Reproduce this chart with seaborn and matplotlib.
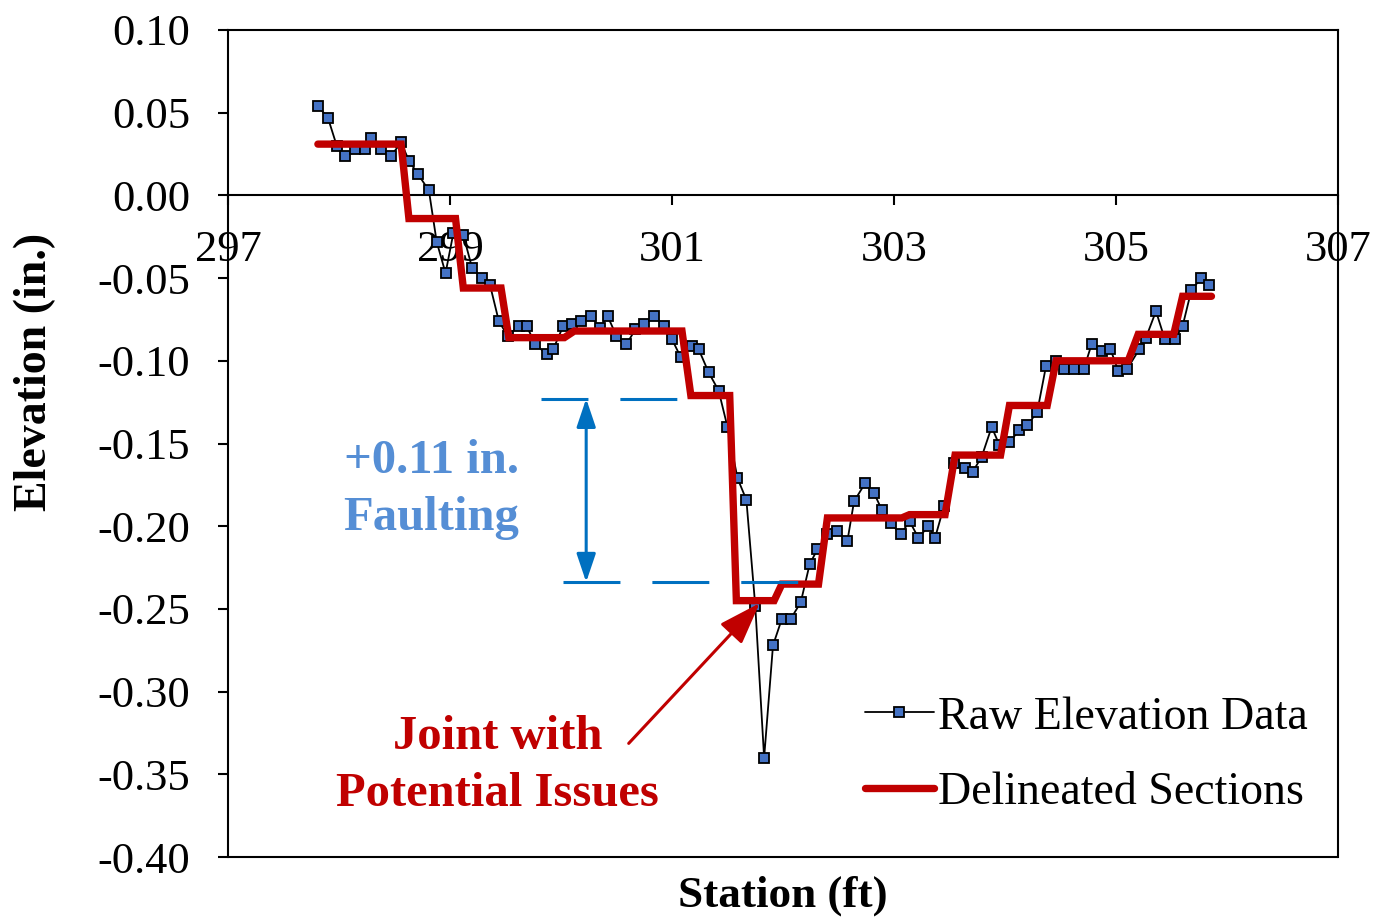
import numpy as np
import pandas as pd
import matplotlib
matplotlib.use("Agg")
import matplotlib.pyplot as plt
import seaborn as sns

# ---------------- data ----------------
station = [297.81, 297.90, 297.98, 298.05, 298.14, 298.23, 298.29, 298.38, 298.47, 298.56,
           298.63, 298.71, 298.81, 298.88, 298.96, 299.03, 299.12, 299.20, 299.29, 299.36,
           299.44, 299.52, 299.62, 299.69, 299.77, 299.87, 299.93, 300.02, 300.10, 300.18,
           300.27, 300.35, 300.42, 300.50, 300.59, 300.67, 300.75, 300.84, 300.93, 301.00,
           301.08, 301.18, 301.24, 301.33, 301.42, 301.50, 301.59, 301.67, 301.75, 301.83,
           301.91, 301.99, 302.07, 302.16, 302.24, 302.31, 302.40, 302.49, 302.58, 302.64,
           302.74, 302.82, 302.89, 302.97, 303.06, 303.14, 303.22, 303.31, 303.37, 303.45,
           303.54, 303.64, 303.71, 303.79, 303.88, 303.95, 304.04, 304.13, 304.20, 304.29,
           304.37, 304.46, 304.53, 304.62, 304.71, 304.78, 304.87, 304.95, 305.02, 305.10,
           305.21, 305.27, 305.36, 305.44, 305.53, 305.60, 305.68, 305.77, 305.84]
elevation = [0.054, 0.047, 0.030, 0.024, 0.028, 0.028, 0.035, 0.028, 0.024, 0.032,
             0.021, 0.013, 0.003, -0.028, -0.047, -0.023, -0.024, -0.044, -0.050, -0.054,
             -0.076, -0.085, -0.079, -0.079, -0.090, -0.096, -0.093, -0.079, -0.078, -0.076,
             -0.073, -0.080, -0.073, -0.085, -0.090, -0.081, -0.078, -0.073, -0.079, -0.087,
             -0.098, -0.091, -0.093, -0.107, -0.118, -0.140, -0.171, -0.184, -0.248, -0.340,
             -0.272, -0.256, -0.256, -0.246, -0.223, -0.214, -0.205, -0.203, -0.209, -0.185,
             -0.174, -0.180, -0.190, -0.198, -0.205, -0.197, -0.207, -0.200, -0.207, -0.188,
             -0.162, -0.165, -0.167, -0.158, -0.140, -0.151, -0.149, -0.142, -0.139, -0.131,
             -0.103, -0.100, -0.105, -0.105, -0.105, -0.090, -0.094, -0.093, -0.106, -0.105,
             -0.093, -0.086, -0.070, -0.087, -0.087, -0.079, -0.057, -0.050, -0.054]

section_station = [297.81, 298.56, 298.63, 299.05, 299.12, 299.46, 299.53, 300.03, 300.12,
                   301.09, 301.17, 301.52, 301.58, 301.92, 301.99, 302.32, 302.40, 303.07,
                   303.14, 303.46, 303.55, 303.96, 304.04, 304.38, 304.46, 305.11, 305.20,
                   305.52, 305.60, 305.86]
section_elevation = [0.031, 0.031, -0.014, -0.014, -0.056, -0.056, -0.086, -0.086, -0.082,
                     -0.082, -0.121, -0.121, -0.245, -0.245, -0.235, -0.235, -0.195, -0.195,
                     -0.193, -0.193, -0.157, -0.157, -0.127, -0.127, -0.100, -0.100, -0.084,
                     -0.084, -0.061, -0.061]

x_ticks = [297, 299, 301, 303, 305, 307]
y_ticks = [0.10, 0.05, 0.00, -0.05, -0.10, -0.15, -0.20, -0.25, -0.30, -0.35, -0.40]

faulting_top = -0.1229
faulting_bottom = -0.2338

# ---------------- style ----------------
sns.set_theme(style="ticks")
plt.rcParams['font.family'] = ['Liberation Serif', 'DejaVu Serif']
plt.rcParams['axes.unicode_minus'] = False
plt.rcParams['lines.scale_dashes'] = False
plt.rcParams['axes.edgecolor'] = 'black'
plt.rcParams['xtick.color'] = 'black'
plt.rcParams['ytick.color'] = 'black'
plt.rcParams['text.color'] = 'black'
plt.rcParams['axes.labelcolor'] = 'black'

fig = plt.figure(figsize=(13.75, 9.17), dpi=100)
ax = fig.add_axes([0.1658, 0.0654, 0.8073, 0.9019])

raw_df = pd.DataFrame({'Station': station, 'Elevation': elevation})
sec_df = pd.DataFrame({'Station': section_station, 'Elevation': section_elevation})

sns.lineplot(data=raw_df, x='Station', y='Elevation', ax=ax, color='black', lw=1.3,
             marker='s', markersize=6.8, markerfacecolor='#4472C4',
             markeredgecolor='black', markeredgewidth=1.3,
             sort=False, estimator=None, label='Raw Elevation Data', zorder=3)
sns.lineplot(data=sec_df, x='Station', y='Elevation', ax=ax, color='#C00000', lw=5.3,
             sort=False, estimator=None, label='Delineated Sections', zorder=4,
             solid_capstyle='round', solid_joinstyle='miter')

ax.set_xlim(297, 307)
ax.set_ylim(-0.40, 0.10)
ax.set_xticks(x_ticks)
ax.set_yticks(y_ticks)
ax.set_xticklabels([str(t) for t in x_ticks])
ax.set_yticklabels(['%.2f' % t if abs(t) > 1e-9 else '0.00' for t in y_ticks])

for s in ax.spines.values():
    s.set_linewidth(1.5)
    s.set_color('black')
ax.spines['bottom'].set_position(('data', 0))
ax.plot([0, 1], [0, 0], transform=ax.transAxes, color='black', lw=1.5,
        clip_on=False, zorder=5)

ax.tick_params(axis='x', direction='out', length=7, width=1.5, pad=18,
               labelsize=32, bottom=True)
ax.tick_params(axis='y', direction='out', length=7, width=1.5, pad=20,
               labelsize=32, left=True)

ax.set_xlabel('Station (ft)', fontsize=32.5, fontweight='bold')
ax.xaxis.set_label_coords(0.5, -0.022)
ax.set_ylabel('Elevation (in.)', fontsize=33, fontweight='bold')
ax.yaxis.label.set_va('center')
ax.yaxis.set_label_coords(-0.174, 0.586)

# faulting annotation
blue = '#0070C0'
ax.plot([299.82, 301.05], [faulting_top, faulting_top], color=blue, lw=2.2,
        linestyle=(7.2, (41, 23)), dash_capstyle='butt', zorder=6)
ax.plot([300.02, 302.144], [faulting_bottom, faulting_bottom], color=blue, lw=2.2,
        linestyle=(0, (41, 23)), dash_capstyle='butt', zorder=6)
ax.annotate('', xy=(300.227, faulting_bottom), xytext=(300.227, faulting_top),
            arrowprops=dict(arrowstyle='<|-|>,head_length=0.8,head_width=0.27',
                            mutation_scale=21.6, color=blue, lw=2.2,
                            shrinkA=0, shrinkB=0), zorder=6)
ax.text(298.83, -0.1778, '+0.11 in.\nFaulting', ha='center', va='center',
        fontsize=35, fontweight='bold', color='#558ED5', linespacing=1.38)

# joint annotation
ax.annotate('', xy=(301.79, -0.2465), xytext=(300.61, -0.3313),
            arrowprops=dict(arrowstyle='-|>,head_length=1.0,head_width=0.35',
                            mutation_scale=26, color='#C00000', lw=2.2,
                            shrinkA=0, shrinkB=0), zorder=6)
ax.text(299.43, -0.3445, 'Joint with\nPotential Issues', ha='center', va='center',
        fontsize=35, fontweight='bold', color='#C00000', linespacing=1.38)

ax.legend(loc='lower right', bbox_to_anchor=(0.973, 0.052), frameon=False,
          fontsize=33, handlelength=1.5, handletextpad=0.1, labelspacing=0.72,
          borderaxespad=0, borderpad=0)

fig.savefig('out.png', dpi=100)
